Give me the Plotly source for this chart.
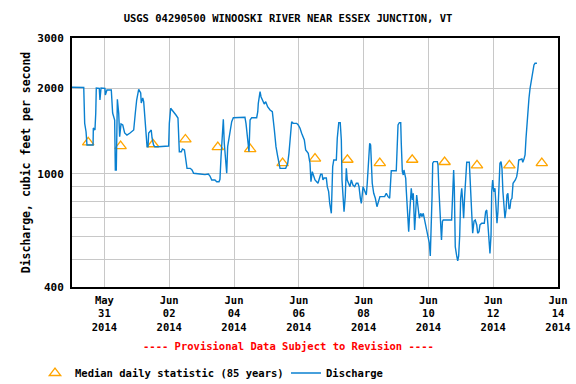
import pandas as pd
import plotly.graph_objects as go

# ---- data ----
start = "2014-05-30 00:00"
# hours since start, discharge (cfs)
hours = [
    0, 8.7, 9.4, 10.4, 11.1, 15.6, 15.8, 17.0, 17.6, 18.0, 20.2, 20.7, 21.5,
    24.4, 24.7, 25.9, 29.1, 30.1, 31.6, 32.1, 32.8, 33.6, 34.6, 35.3, 36.3, 37.6, 39.0, 40.7, 43.0, 45.7, 46.9, 47.9,
    49.4, 50.9, 51.3, 52.4, 53.1, 53.9, 54.8, 55.6, 56.3, 56.8, 58.7, 59.3, 60.4, 61.3, 63.7, 71.6,
    72.1, 73.1, 74.1, 75.3, 76.1, 77.0, 78.5, 79.0, 79.5, 81.0, 81.8, 83.3, 83.9, 85.2, 87.6, 88.9, 90.1, 92.6,
    94.8, 98.5, 101.0, 102.2, 103.5, 105.9, 107.2, 108.9, 109.6, 110.4, 111.3, 112.1, 112.8, 113.8, 114.6, 115.3,
    116.5, 118.3, 119.5,
    128.1, 128.9, 130.1, 131.1, 131.9, 133.1, 136.8, 137.6, 138.0, 139.3, 140.0, 141.3, 142.4, 143.5,
    144.9, 146.7, 148.4, 149.9, 151.1, 152.4, 153.3, 154.1, 158.3, 159.8, 160.7, 161.7, 162.7, 163.9, 166.4, 167.6,
    168.9, 170.1, 172.1, 173.1, 175.0, 176.3, 177.0, 178.0, 179.0, 180.0, 182.2, 183.5, 184.2, 185.2, 185.9, 186.7,
    188.4, 189.1, 190.1, 190.9, 191.6, 192.1, 192.6, 193.1, 193.9, 195.8, 196.5, 197.6, 198.7, 199.5, 200.0, 200.7,
    201.5, 202.4, 203.2, 203.9, 204.9, 205.9, 206.9, 208.1, 209.4, 210.6, 211.8, 212.6, 213.6, 214.3, 215.6,
    216.8, 218.0, 218.7, 219.8, 220.5, 221.2, 221.7, 222.4, 223.5, 224.7, 225.9, 227.2, 228.1, 231.6, 232.8, 234.1,
    235.3, 236.1, 236.5, 240.2, 241.0, 241.5, 242.5, 243.5, 243.9, 244.7, 245.4, 245.9, 246.4, 247.2, 247.6, 248.4,
    249.4, 250.1, 251.3, 252.1, 252.8, 253.8, 254.6, 255.3, 256.3, 257.3, 258.3, 259.3, 260.2, 261.3, 262.4, 263.7,
    264.7, 265.4, 266.1, 266.7, 267.2, 267.9, 270.6, 271.1, 271.8, 272.6, 273.7, 274.4, 275.0, 281.2, 282.0, 282.7,
    283.2, 283.9, 285.0, 285.7, 286.4, 287.2, 287.9, 288.7, 289.4, 290.1, 290.9, 291.6, 292.4, 294.3, 295.3, 296.1,
    296.8, 297.8, 298.7, 299.8, 300.5, 301.5, 302.2, 303.5, 305.4, 306.4, 307.2, 308.1, 308.9, 309.6, 310.4, 310.9,
    311.6, 312.4, 313.3, 314.1, 314.8, 315.5, 316.3, 317.0, 317.8, 318.5, 319.2, 320.0, 320.7, 321.5, 322.2, 322.9,
    323.7, 324.4, 325.1, 325.9, 326.7, 328.4, 329.4, 330.2, 330.9, 333.3, 333.9, 334.8, 335.6, 336.3, 337.1, 337.8,
    338.5, 339.3, 340.0, 340.7, 341.5, 342.2, 343.0, 344.4,
]
discharge = [
    2013, 2010, 1504, 1405, 1262, 1262, 1448, 1425, 1635, 2001, 1996, 1816, 2001,
    1996, 1892, 1970, 1970, 1635, 1545, 1031, 1031, 1827, 1631, 1350, 1496, 1484, 1391, 1368, 1391, 1425, 1635, 1816,
    1980, 1922, 1773, 1847, 1792, 1587, 1463, 1245, 1245, 1391, 1425, 1336, 1262, 1245, 1245, 1252,
    1504, 1699, 1676, 1652, 1635, 1609, 1570, 1391, 1195, 1195, 1222, 1212, 1148, 1045, 1045, 1031, 1004, 1004,
    998, 993, 998, 982, 951, 951, 938, 938, 956, 1148, 1425, 1554, 1280, 1148, 1004, 1245,
    1350, 1524, 1574,
    1580, 1500, 1280, 1195, 1545, 1574, 1574, 1652, 1768, 1943, 1866, 1816, 1758, 1792,
    1720, 1676, 1652, 1425, 1245, 1148, 1074, 1045, 1045, 1089, 1180, 1388, 1524, 1504, 1504, 1484,
    1445, 1388, 1314, 1212, 1180, 1089, 938, 1017, 977, 951, 926, 964, 996, 996, 951, 966,
    966, 901, 865, 787, 726, 726, 877, 1059, 1118, 1118, 1333, 1512, 1512, 1314, 951, 854,
    736, 831, 1045, 951, 926, 901, 951, 913, 901, 926, 926, 901, 820, 787, 901,
    877, 842, 926, 1148, 1280, 1262, 1059, 926, 854, 820, 766, 798, 831, 831, 854, 831,
    820, 951, 1025, 1025, 1245, 1484, 1512, 1512, 1280, 1017, 990, 1031, 1004, 964, 877, 726,
    626, 726, 889, 809, 854, 634, 766, 842, 766, 698, 726, 707, 726, 688, 652, 609,
    570, 514, 618, 831, 1089, 1103, 1103, 1074, 877, 726, 585, 680, 688, 688, 820, 1031,
    889, 554, 513, 494, 513, 609, 820, 889, 798, 698, 842, 990, 1097, 1097, 820, 736,
    618, 682, 688, 661, 618, 626, 661, 670, 670, 736, 746, 661, 601, 525, 609, 865,
    951, 865, 889, 777, 670, 736, 926, 1089, 1103, 1045, 865, 746, 698, 746, 842, 854,
    752, 757, 809, 820, 926, 951, 977, 1031, 1118, 1127, 1097, 1127, 1164, 1333, 1524, 1567,
    1843, 1996, 2106, 2224, 2348, 2412, 2445, 2445,
]
median_dates = ["2014-05-30 12:00", "2014-05-31 12:00", "2014-06-01 12:00", "2014-06-02 12:00",
                "2014-06-03 12:00", "2014-06-04 12:00", "2014-06-05 12:00", "2014-06-06 12:00",
                "2014-06-07 12:00", "2014-06-08 12:00", "2014-06-09 12:00", "2014-06-10 12:00",
                "2014-06-11 12:00", "2014-06-12 12:00", "2014-06-13 12:00"]
median_values = [1290, 1250, 1270, 1320, 1240, 1220, 1090, 1130, 1120, 1090, 1120, 1100, 1070, 1070, 1090]

tick_dates = ["2014-05-31", "2014-06-02", "2014-06-04", "2014-06-06",
              "2014-06-08", "2014-06-10", "2014-06-12", "2014-06-14"]
tick_labels = ["May<br>31<br>2014", "Jun<br>02<br>2014", "Jun<br>04<br>2014", "Jun<br>06<br>2014",
               "Jun<br>08<br>2014", "Jun<br>10<br>2014", "Jun<br>12<br>2014", "Jun<br>14<br>2014"]
y_tickvals = [400, 500, 600, 700, 800, 900, 1000, 2000, 3000]
y_ticktext = ["400", "", "", "", "", "", "1000", "2000", "3000"]

times = pd.Timestamp(start) + pd.to_timedelta(hours, unit="h")

FONT = "DejaVu Sans Mono"
PLOT_L, PLOT_R, PLOT_T, PLOT_B = 72, 558, 38, 287
PW, PH = PLOT_R - PLOT_L, PLOT_B - PLOT_T

fig = go.Figure()
fig.add_trace(go.Scatter(
    x=median_dates, y=median_values, mode="markers",
    name="Median daily statistic (85 years)",
    marker=dict(symbol="triangle-up-open", size=10, color="#FFA500", line=dict(width=1.3, color="#FFA500")),
    legend="legend",
))
fig.add_trace(go.Scatter(
    x=times, y=discharge, mode="lines", name="Discharge",
    line=dict(color="#0A80D0", width=1.4),
    legend="legend2",
))

fig.update_layout(
    width=576, height=384,
    margin=dict(l=PLOT_L, r=576 - PLOT_R, t=PLOT_T, b=384 - PLOT_B, autoexpand=False),
    paper_bgcolor="white", plot_bgcolor="white",
    font=dict(family=FONT, size=11, color="black", weight="bold"),
    title=dict(text="USGS 04290500 WINOOSKI RIVER NEAR ESSEX JUNCTION, VT",
               x=0.5, xref="container", xanchor="center",
               y=1 - 18 / 384, yref="container", yanchor="middle",
               font=dict(family=FONT, size=10.5, color="black", weight="bold")),
    xaxis=dict(
        type="date", range=["2014-05-30", "2014-06-14"],
        tickvals=tick_dates, ticktext=tick_labels,
        showgrid=True, gridcolor="#C8C8C8", gridwidth=1,
        showline=True, linecolor="black", linewidth=2, mirror=True,
        ticks="", zeroline=False, ticklabelstandoff=2,
        tickfont=dict(family=FONT, size=10.5, weight="bold"),
    ),
    yaxis=dict(
        type="log", range=[2.60206, 3.47712],
        tickvals=y_tickvals, ticktext=y_ticktext,
        showgrid=True, gridcolor="#C8C8C8", gridwidth=1,
        showline=True, linecolor="black", linewidth=2, mirror=True,
        ticks="", zeroline=False, ticklabelstandoff=4,
        tickfont=dict(family=FONT, size=11, weight="bold"),
        title=dict(text="Discharge, cubic feet per second", standoff=4,
                   font=dict(family=FONT, size=11.5, weight="bold")),
    ),
    showlegend=True,
    legend=dict(orientation="h", x=(35 - PLOT_L) / PW, xanchor="left",
                y=(PLOT_B - 373) / PH, yanchor="middle",
                font=dict(family=FONT, size=10.5, weight="bold"), bgcolor="rgba(0,0,0,0)"),
    legend2=dict(orientation="h", x=(286 - PLOT_L) / PW, xanchor="left",
                 y=(PLOT_B - 373) / PH, yanchor="middle",
                 font=dict(family=FONT, size=10.5, weight="bold"), bgcolor="rgba(0,0,0,0)"),
    annotations=[dict(
        text="---- Provisional Data Subject to Revision ----",
        xref="paper", yref="paper", x=(288 - PLOT_L) / PW, y=(PLOT_B - 346) / PH,
        xanchor="center", yanchor="middle", showarrow=False,
        font=dict(family=FONT, size=10.5, color="#FF0000", weight="bold"),
    )],
)

fig.write_html("out.html", config={"displayModeBar": False},
               post_script="document.body.style.margin='0';")
